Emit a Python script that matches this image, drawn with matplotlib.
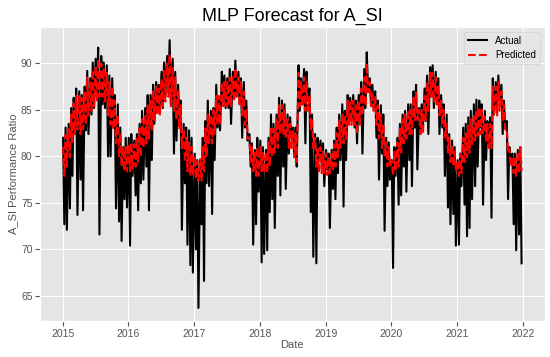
import numpy as np
import pandas as pd
import matplotlib
matplotlib.use('Agg')
import matplotlib.pyplot as plt

plt.style.use('ggplot')
plt.rcParams['font.family'] = ['Liberation Sans', 'DejaVu Sans']

# half-month readings (1st / 16th of each month), 2015-2021
# top of the black trace
act_hi = [
    82.0, 83.1, 83.5, 85.2, 86.3, 87.3, 87.0, 86.6, 87.5, 89.2, 88.4, 90.1, 90.5, 91.7, 90.8, 90.1, 89.8, 88.7, 88.4, 86.6, 85.6, 83.1, 81.0, 82.0,
    82.0, 82.4, 81.7, 82.4, 83.5, 84.9, 85.2, 86.6, 86.6, 87.7, 88.0, 87.7, 89.1, 90.1, 90.8, 92.5, 90.5, 89.1, 87.7, 86.0, 83.5, 83.1, 82.8, 82.0,
    80.3, 79.6, 79.6, 82.0, 83.8, 86.0, 84.9, 85.2, 87.7, 86.3, 89.1, 88.7, 88.4, 89.4, 89.1, 90.3, 89.1, 88.4, 88.0, 86.0, 82.4, 81.4, 80.7, 82.0,
    81.7, 81.0, 80.7, 82.0, 84.5, 83.5, 84.5, 86.3, 86.0, 85.6, 84.5, 84.2, 83.1, 83.1, 89.8, 88.4, 89.4, 89.1, 87.3, 84.5, 82.4, 82.0, 81.7, 81.4,
    80.7, 80.3, 80.7, 81.7, 83.1, 84.5, 85.6, 84.9, 86.6, 86.3, 86.6, 86.0, 86.6, 88.0, 89.4, 91.2, 88.4, 87.7, 87.0, 86.0, 85.5, 84.5, 82.0, 81.5,
    79.6, 81.0, 82.0, 83.5, 84.5, 84.9, 85.6, 85.6, 87.0, 87.7, 85.2, 85.6, 87.3, 88.7, 89.6, 89.8, 89.1, 88.4, 86.6, 85.6, 84.5, 82.4, 81.7, 81.0,
    79.6, 80.3, 83.1, 83.5, 84.2, 84.9, 85.6, 86.1, 86.0, 85.6, 84.9, 83.8, 84.2, 88.4, 88.0, 88.7, 87.7, 86.0, 83.8, 81.0, 80.3, 80.3, 80.7, 81.0,
]
# lowest point of the black trace (drops included)
act_lo = [
    72.7, 72.1, 74.4, 77.9, 82.4, 73.7, 77.5, 74.2, 82.8, 82.4, 84.5, 85.2, 86.6, 71.6, 85.6, 85.2, 80.0, 80.0, 83.1, 74.4, 73.0, 70.9, 75.4, 74.5,
    70.4, 77.9, 75.8, 74.2, 77.1, 77.5, 78.9, 74.2, 79.6, 83.5, 84.9, 85.2, 85.2, 86.6, 87.3, 85.6, 80.3, 81.7, 83.8, 72.1, 77.1, 70.5, 68.3, 67.5,
    70.0, 63.7, 72.7, 66.6, 77.1, 76.8, 73.8, 79.6, 83.1, 82.8, 86.3, 85.2, 85.2, 83.5, 86.3, 86.6, 85.6, 82.0, 83.1, 81.7, 78.9, 70.5, 72.7, 76.2,
    68.6, 69.5, 69.9, 74.0, 75.4, 72.3, 77.9, 75.8, 78.9, 76.5, 80.3, 82.0, 80.0, 78.9, 84.9, 85.6, 81.4, 86.0, 74.0, 69.2, 68.5, 79.6, 78.9, 76.8,
    78.6, 72.3, 76.5, 75.4, 78.2, 79.6, 74.6, 79.6, 83.5, 83.8, 83.1, 81.4, 83.8, 80.3, 85.2, 87.3, 85.6, 85.2, 82.0, 77.5, 80.3, 72.0, 76.8, 77.5,
    68.0, 77.9, 74.8, 75.8, 78.9, 76.2, 79.6, 76.8, 83.1, 78.6, 82.4, 83.1, 83.8, 82.4, 86.6, 85.2, 85.6, 82.4, 83.1, 77.9, 74.5, 72.7, 73.8, 70.4,
    70.5, 76.8, 74.8, 71.4, 72.3, 75.4, 76.8, 78.9, 83.1, 74.8, 79.6, 81.4, 73.4, 84.5, 85.2, 86.0, 82.4, 83.1, 75.4, 79.6, 72.7, 69.9, 71.6, 68.5,
]
# upper / lower edge of the red band
pred_hi = [
    81.0, 82.3, 83.0, 84.5, 85.7, 86.5, 86.5, 86.3, 87.0, 88.5, 88.0, 89.3, 89.7, 90.5, 90.0, 89.5, 89.0, 88.0, 87.5, 86.0, 84.5, 82.5, 81.0, 81.0,
    81.3, 81.5, 81.3, 82.0, 83.0, 84.0, 84.5, 85.5, 86.0, 87.0, 87.5, 87.3, 88.3, 89.3, 90.0, 91.0, 89.5, 88.5, 87.0, 85.5, 83.0, 82.0, 81.5, 81.0,
    80.0, 79.5, 79.7, 81.0, 83.0, 84.5, 84.5, 85.0, 86.5, 86.5, 88.0, 88.0, 88.0, 88.5, 88.5, 89.5, 88.5, 88.0, 87.0, 85.0, 82.0, 81.0, 80.5, 81.0,
    81.0, 80.5, 80.5, 81.5, 83.0, 83.0, 84.0, 85.5, 85.5, 85.0, 84.0, 83.5, 82.7, 82.5, 89.0, 88.0, 88.5, 88.0, 86.5, 84.0, 82.0, 81.0, 81.0, 80.5,
    80.3, 80.0, 80.3, 81.3, 82.5, 84.0, 84.5, 84.5, 86.0, 86.0, 86.0, 85.5, 86.0, 87.3, 88.5, 90.0, 88.0, 87.0, 86.5, 85.5, 84.5, 83.5, 81.5, 81.0,
    79.5, 80.5, 81.5, 83.0, 84.0, 84.5, 85.0, 85.0, 86.5, 87.0, 85.0, 85.0, 86.5, 88.0, 89.0, 89.0, 88.5, 87.5, 86.0, 85.0, 83.5, 82.0, 81.3, 80.5,
    79.5, 80.3, 82.0, 82.5, 83.3, 84.0, 84.5, 85.0, 85.3, 85.0, 84.3, 83.5, 83.5, 87.5, 87.5, 88.0, 87.0, 85.5, 83.0, 80.8, 80.0, 80.0, 80.5, 81.0,
]
pred_lo = [
    77.9, 78.9, 79.9, 81.4, 82.4, 82.9, 82.4, 82.9, 83.4, 84.4, 84.9, 85.4, 85.9, 86.4, 86.4, 85.9, 84.4, 83.4, 82.9, 81.4, 79.9, 78.9, 78.4, 78.4,
    78.4, 78.7, 78.9, 79.4, 79.9, 80.9, 81.4, 81.9, 82.9, 83.9, 84.4, 84.4, 85.4, 85.9, 86.4, 85.4, 84.9, 83.9, 82.9, 80.9, 79.4, 78.4, 77.9, 77.9,
    77.6, 77.4, 77.4, 78.4, 79.9, 81.4, 81.4, 82.4, 83.4, 83.4, 85.4, 85.4, 85.4, 85.4, 85.9, 86.4, 85.4, 84.4, 83.4, 81.9, 79.4, 78.4, 77.9, 77.9,
    78.4, 78.2, 78.2, 78.9, 79.9, 80.4, 80.9, 82.4, 82.4, 81.9, 80.9, 80.9, 79.9, 79.4, 85.4, 85.4, 84.9, 84.9, 82.9, 80.9, 78.9, 78.4, 78.2, 78.2,
    78.0, 78.2, 78.4, 78.9, 79.9, 80.9, 81.4, 81.9, 83.4, 83.4, 83.4, 82.4, 83.4, 84.4, 85.4, 86.9, 85.4, 84.9, 83.4, 81.9, 80.9, 79.9, 78.9, 78.9,
    77.9, 78.4, 78.9, 80.4, 81.4, 81.9, 82.4, 82.4, 83.9, 83.9, 82.4, 82.4, 83.9, 84.9, 86.4, 85.9, 85.4, 84.4, 83.4, 81.9, 80.4, 79.4, 78.9, 78.4,
    77.9, 78.2, 79.4, 79.9, 80.4, 81.2, 81.7, 82.2, 82.4, 82.4, 81.7, 80.9, 80.9, 84.4, 84.4, 84.9, 83.9, 82.9, 80.4, 78.9, 78.2, 77.9, 78.2, 78.4,
]

# dates of the half-month readings
starts = pd.date_range('2015-01-01', periods=len(act_hi), freq='SMS')
t_hi = starts + pd.Timedelta(days=2)
t_lo = starts + pd.Timedelta(days=9)

# interleave high / low readings into one trace each
t_act = np.empty(2 * len(starts), dtype='datetime64[ns]')
t_act[0::2] = t_hi.values
t_act[1::2] = t_lo.values
y_act = np.empty(2 * len(starts))
y_act[0::2] = act_hi
y_act[1::2] = act_lo

y_pred = np.empty(2 * len(starts))
y_pred[0::2] = pred_hi
y_pred[1::2] = pred_lo

fig, ax = plt.subplots(figsize=(5.5, 3.57), dpi=100)
fig.subplots_adjust(left=0.073, right=0.99, top=0.925, bottom=0.1)

ax.plot(t_act, y_act, color='black', lw=1.5, label='Actual')
ax.plot(t_act, y_pred, color='red', lw=1.5, linestyle='--', label='Predicted')

ax.set_title('MLP Forecast for A_SI', fontsize=13, color='black', pad=4)
ax.set_xlabel('Date', fontsize=8, labelpad=1)
ax.set_ylabel('A_SI Performance Ratio', fontsize=8, labelpad=2)
ax.tick_params(labelsize=7.5, pad=2)
ax.legend(loc='upper right', fontsize=7)

plt.savefig('out.png', dpi=100)
